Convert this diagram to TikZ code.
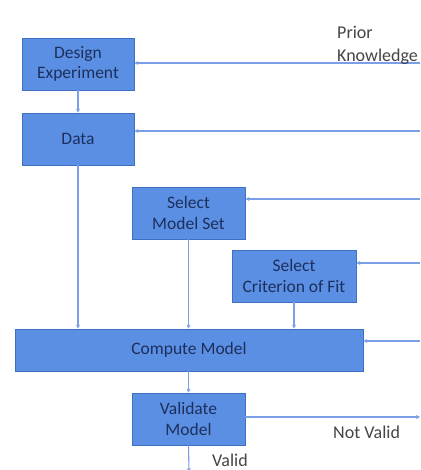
\documentclass[tikz,border=0pt]{standalone}
\usepackage{fontspec}
\setmainfont{Carlito}
\usetikzlibrary{arrows.meta}
\definecolor{boxfill}{HTML}{5A8FE3}
\definecolor{boxedge}{HTML}{3F6FC2}
\definecolor{boxtext}{HTML}{1E2F5C}
\definecolor{wire}{HTML}{7B9FE6}
\definecolor{labeltext}{HTML}{454545}
\begin{document}
\begin{tikzpicture}[x=1pt,y=-1pt,
  stepbox/.style={draw=boxedge,line width=0.8pt,fill=boxfill,text=boxtext,
    font=\fontsize{17.5}{20.5}\selectfont,align=center,inner sep=0pt},
  wirearrow/.style={draw=wire,line width=1.1pt,-{Stealth[length=4pt,width=4pt]}},
  note/.style={text=labeltext,font=\fontsize{18}{23}\selectfont,align=left,inner sep=0pt},
  shortnote/.style={text=labeltext,font=\fontsize{18}{20}\selectfont,inner sep=0pt}]
\useasboundingbox[fill=white] (0,0) rectangle (420,470);
\clip (0,0) rectangle (420,470);

% process boxes
\node[stepbox,minimum width=112pt,minimum height=52pt] (design) at (78,64) {Design\\Experiment};
\node[stepbox,minimum width=112pt,minimum height=52pt] (data) at (78,139) {Data};
\node[stepbox,minimum width=113pt,minimum height=52pt] (modelset) at (188.5,213) {Select\\Model Set};
\node[stepbox,minimum width=124pt,minimum height=52pt] (criterion) at (294,276) {Select\\Criterion of Fit};
\node[stepbox,minimum width=348pt,minimum height=42pt] (compute) at (189,350) {Compute Model};
\node[stepbox,minimum width=113pt,minimum height=52pt] (validate) at (188.5,419) {Validate\\Model};

% free ends on the right edge and below
\coordinate (p1) at (420,63);
\coordinate (p2) at (420,131);
\coordinate (p3) at (420,199);
\coordinate (p4) at (420,263);
\coordinate (p5) at (420,341);
\coordinate (nv) at (420,417);
\coordinate (ok) at (189,472);

% feedback from prior knowledge
\draw[wirearrow] (p1) -- (p1 -| design.east);
\draw[wirearrow] (p2) -- (p2 -| data.east);
\draw[wirearrow] (p3) -- (p3 -| modelset.east);
\draw[wirearrow] (p4) -- (p4 -| criterion.east);
\draw[wirearrow] (p5) -- (p5 -| compute.east);

% main flow
\draw[wirearrow] (design) -- (data);
\draw[wirearrow] (data) -- (data.south |- compute.north);
\draw[wirearrow] (modelset.south) -- (modelset.south |- compute.north);
\draw[wirearrow] (criterion.south) -- (criterion.south |- compute.north);
\draw[wirearrow] (compute.south -| validate.north) -- (validate.north);
\draw[wirearrow] (validate.east |- nv) -- (nv);
\draw[wirearrow] (validate.south) -- (ok);

% labels
\node[note,anchor=west] (prior) at (337,45) {Prior\\Knowledge};
\node[shortnote,anchor=west] (notvalid) at (333,432) {Not Valid};
\node[shortnote,anchor=west] (valid) at (212,460) {Valid};
\end{tikzpicture}
\end{document}
